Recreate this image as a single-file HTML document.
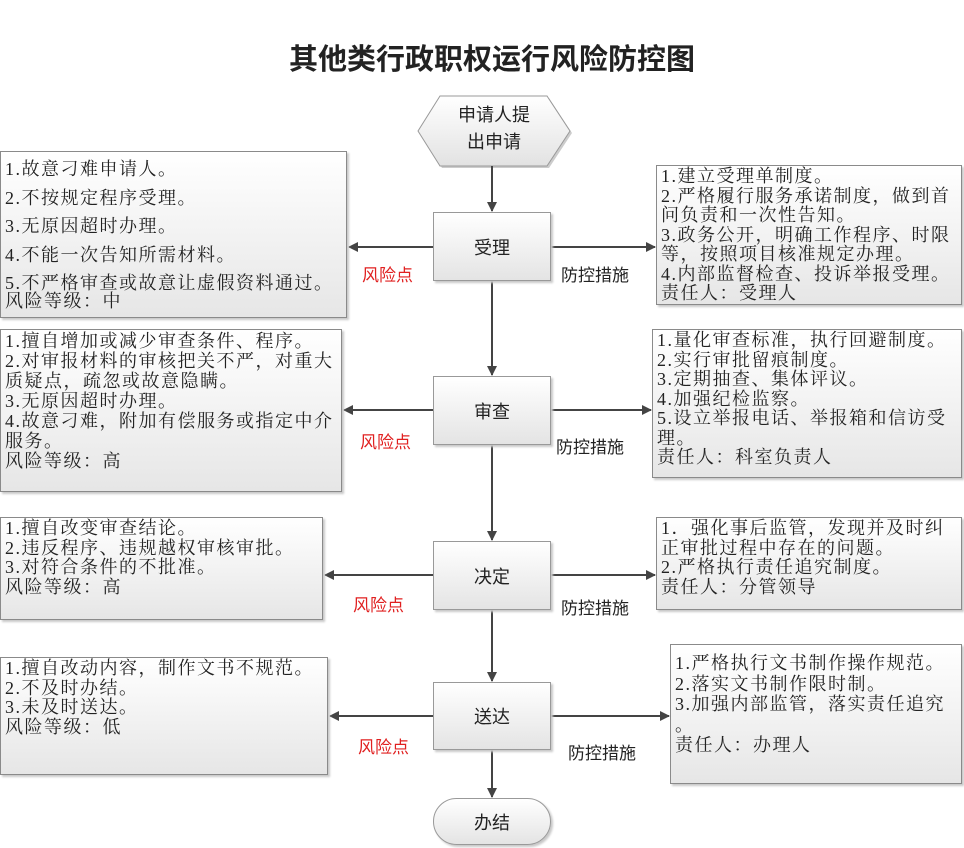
<!DOCTYPE html>
<html><head><meta charset="utf-8"><style>
body{margin:0;width:964px;height:848px;background:#fff;position:relative;overflow:hidden;font-family:"Liberation Serif","Noto Serif CJK SC",serif;color:#222}
.b{position:absolute;box-sizing:border-box;border:1px solid #8a8a8a;background:linear-gradient(#ffffff,#e6e6e6);box-shadow:2px 2px 2px #c8c8c8;white-space:nowrap;font-size:18px;letter-spacing:1.5px;padding:1px 0 0 4px;overflow:hidden}
.n{position:absolute;box-sizing:border-box;border:1px solid #999;background:linear-gradient(#ffffff,#e4e4e4);box-shadow:2px 2px 2px #c8c8c8;display:flex;align-items:center;justify-content:center;font-family:"Liberation Sans","Noto Sans CJK SC",sans-serif;font-size:18px}
.l{position:absolute;font-family:"Liberation Sans","Noto Sans CJK SC",sans-serif;font-size:17px;white-space:nowrap}
.r{color:#e02020}
svg{position:absolute;left:0;top:0}
</style></head><body>
<div style="position:absolute;left:0;width:984px;top:36px;text-align:center;font-family:'Liberation Sans','Noto Sans CJK SC',sans-serif;font-weight:bold;font-size:29px">其他类行政职权运行风险防控图</div>
<svg width="964" height="848">
<defs><marker id="a" markerWidth="10" markerHeight="10" refX="9" refY="5" orient="auto" markerUnits="userSpaceOnUse"><path d="M0,0 L10,5 L0,10 z" fill="#444"/></marker>
<linearGradient id="g" x1="0" y1="0" x2="0" y2="1"><stop offset="0" stop-color="#fff"/><stop offset="1" stop-color="#e2e2e2"/></linearGradient></defs>
<polygon points="418,131 440,96 547,96 570,131 547,166 440,166" fill="#ccc" transform="translate(2,2)"/>
<polygon points="418,131 440,96 547,96 570,131 547,166 440,166" fill="url(#g)" stroke="#999"/>
<g stroke="#444" stroke-width="2" fill="none" marker-end="url(#a)">
<line x1="492" y1="166" x2="492" y2="211"/>
<line x1="492" y1="281" x2="492" y2="375"/>
<line x1="492" y1="445" x2="492" y2="540"/>
<line x1="492" y1="610" x2="492" y2="681"/>
<line x1="492" y1="750" x2="492" y2="797"/>
<line x1="433" y1="247" x2="349" y2="247"/>
<line x1="551" y1="247" x2="655" y2="247"/>
<line x1="433" y1="410" x2="344" y2="410"/>
<line x1="551" y1="410" x2="651" y2="410"/>
<line x1="433" y1="575" x2="325" y2="575"/>
<line x1="551" y1="575" x2="655" y2="575"/>
<line x1="433" y1="716" x2="330" y2="716"/>
<line x1="551" y1="716" x2="669" y2="716"/>
</g>
</svg>
<div class="l" style="left:418px;width:152px;top:102px;text-align:center;font-size:18px;line-height:27px">申请人提<br>出申请</div>
<div class="n" style="left:433px;top:212px;width:118px;height:69px">受理</div>
<div class="n" style="left:433px;top:376px;width:118px;height:69px">审查</div>
<div class="n" style="left:433px;top:541px;width:118px;height:69px">决定</div>
<div class="n" style="left:433px;top:682px;width:118px;height:68px">送达</div>
<div class="n" style="left:433px;top:798px;width:118px;height:47px;border-radius:24px">办结</div>

<div class="b" style="left:0;top:151px;width:347px;height:167px;line-height:28.5px;padding-top:3px">1.故意刁难申请人。<br>2.不按规定程序受理。<br>3.无原因超时办理。<br>4.不能一次告知所需材料。<br>5.不严格审查或故意让虚假资料通过。<div style="line-height:18px;margin-top:-6px">风险等级：中</div></div>
<div class="b" style="left:656px;top:165px;width:306px;height:140px;line-height:19.5px">1.建立受理单制度。<br>2.严格履行服务承诺制度，做到首<br>问负责和一次性告知。<br>3.政务公开，明确工作程序、时限<br>等，按照项目核准规定办理。<br>4.内部监督检查、投诉举报受理。<br>责任人：受理人</div>
<div class="b" style="left:0;top:329px;width:342px;height:163px;line-height:20px">1.擅自增加或减少审查条件、程序。<br>2.对审报材料的审核把关不严，对重大<br>质疑点，疏忽或故意隐瞒。<br>3.无原因超时办理。<br>4.故意刁难，附加有偿服务或指定中介<br>服务。<br>风险等级：高</div>
<div class="b" style="left:652px;top:329px;width:310px;height:149px;line-height:19.5px">1.量化审查标准，执行回避制度。<br>2.实行审批留痕制度。<br>3.定期抽查、集体评议。<br>4.加强纪检监察。<br>5.设立举报电话、举报箱和信访受<br>理。<br>责任人：科室负责人</div>
<div class="b" style="left:0;top:517px;width:323px;height:103px;line-height:19.5px">1.擅自改变审查结论。<br>2.违反程序、违规越权审核审批。<br>3.对符合条件的不批准。<br>风险等级：高</div>
<div class="b" style="left:656px;top:517px;width:306px;height:93px;line-height:19.5px">1．强化事后监管，发现并及时纠<br>正审批过程中存在的问题。<br>2.严格执行责任追究制度。<br>责任人：分管领导</div>
<div class="b" style="left:0;top:657px;width:328px;height:118px;line-height:19.5px">1.擅自改动内容，制作文书不规范。<br>2.不及时办结。<br>3.未及时送达。<br>风险等级：低</div>
<div class="b" style="left:670px;top:644px;width:292px;height:140px;line-height:20.5px;padding-top:8px">1.严格执行文书制作操作规范。<br>2.落实文书制作限时制。<br>3.加强内部监管，落实责任追究<br>。<br>责任人：办理人</div>

<div class="l r" style="left:362px;top:261px">风险点</div>
<div class="l" style="left:561px;top:261px">防控措施</div>
<div class="l r" style="left:360px;top:428px">风险点</div>
<div class="l" style="left:556px;top:433px">防控措施</div>
<div class="l r" style="left:353px;top:591px">风险点</div>
<div class="l" style="left:561px;top:594px">防控措施</div>
<div class="l r" style="left:358px;top:733px">风险点</div>
<div class="l" style="left:568px;top:739px">防控措施</div>
</body></html>
